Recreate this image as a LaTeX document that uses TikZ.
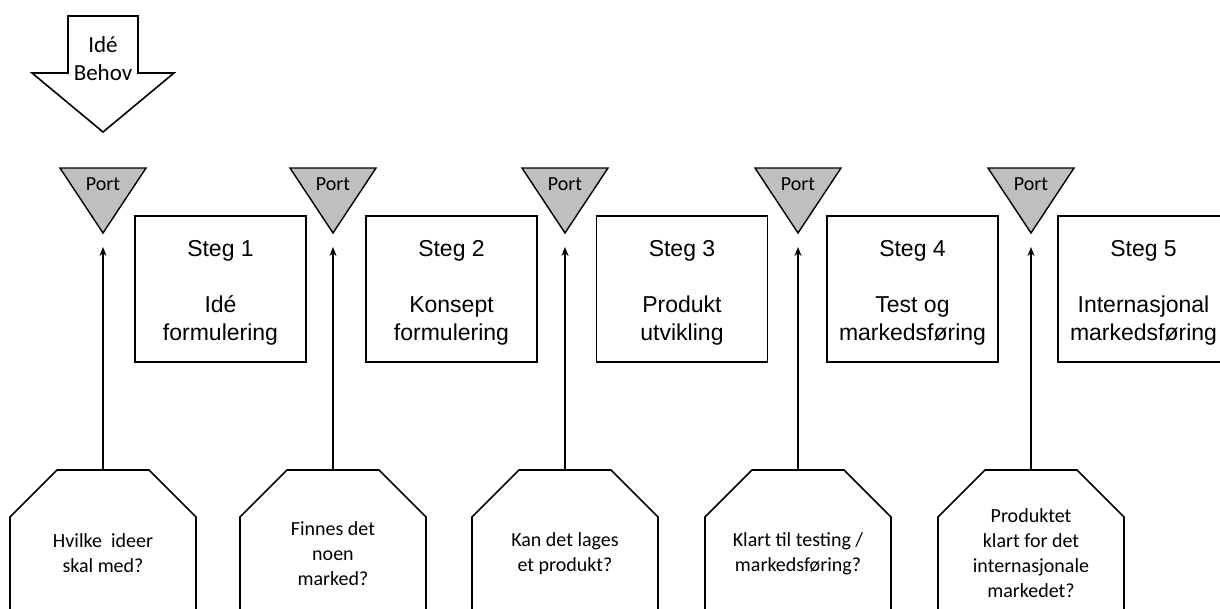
\documentclass[tikz,border=0pt]{standalone}
\usepackage{fontspec}
\setmainfont{Carlito}
\newfontfamily\arialf{Liberation Sans}
\usetikzlibrary{arrows.meta}
\begin{document}
\begin{tikzpicture}[x=1pt,y=-1pt,line join=miter]
\tikzset{
 stegbox/.style={draw,line width=1.6pt,minimum width=171pt,minimum height=146pt,inner sep=0pt},
 stegtext/.style={font=\arialf\fontsize{23}{28}\selectfont,align=center,inner sep=0pt},
 porttri/.style={draw,fill=gray!50,line width=1.4pt},
 porttext/.style={font=\fontsize{20}{24}\selectfont,inner sep=0pt},
 qtext/.style={font=\fontsize{20}{25}\selectfont,align=center,inner sep=0pt},
 octline/.style={draw,line width=1.6pt},
 conn/.style={line width=1.6pt,-{Stealth[length=9pt,width=7pt]}},
 bigarrow/.style={draw,line width=1.6pt},
 arrowtext/.style={font=\fontsize{23}{28}\selectfont,align=center,inner sep=0pt},
}
\useasboundingbox (0,0) rectangle (1220,608);
% big entry arrow
\draw[bigarrow] (68,16) -- (138,16) -- (138,73) -- (174,73) -- (103,132) -- (32,73) -- (68,73) -- cycle;
\node[arrowtext] (idea) at (103,58.5) {Idé\\Behov};
% ports, octagons and connectors
\foreach \i/\px in {1/103,2/333,3/565,4/798,5/1031}{
  \draw[porttri] (\px-43,168) -- (\px+43,168) -- (\px,233) -- cycle;
  \coordinate (p\i) at (\px,233);
  \coordinate (a\i) at (\px,247);
  \node[porttext] (pt\i) at (\px,184) {Port};
  \draw[octline] (\px-93,614) -- (\px-93,517) -- (\px-46,470) -- (\px+46,470) -- (\px+93,517) -- (\px+93,614);
  \coordinate (q\i) at (\px,470);
  \draw[conn] (q\i) -- (a\i);
}
% step boxes
\foreach \i/\bx in {1/220.5,2/451.5,3/682,4/912.5,5/1143.5}{
  \node[stegbox] (s\i) at (\bx,289) {};
}
\node[stegtext] (t1) at (220.5,293) {Steg 1\\[28pt]Idé\\formulering};
\node[stegtext] (t2) at (451.5,293) {Steg 2\\[28pt]Konsept\\formulering};
\node[stegtext] (t3) at (682,293) {Steg 3\\[28pt]Produkt\\utvikling};
\node[stegtext] (t4) at (912.5,293) {Steg 4\\[28pt]Test og\\markedsføring};
\node[stegtext] (t5) at (1143.5,293) {Steg 5\\[28pt]Internasjonal\\markedsføring};
% question texts
\node[qtext] (o1) at (103,553.5) {Hvilke\ \ ideer\\skal med?};
\node[qtext] (o2) at (333,553.5) {Finnes det\\noen\\marked?};
\node[qtext] (o3) at (565,553.5) {Kan det lages\\et produkt?};
\node[qtext] (o4) at (798,553.5) {Klart til testing /\\markedsføring?};
\node[qtext] (o5) at (1031,553.5) {Produktet\\klart for det\\internasjonale\\markedet?};
\end{tikzpicture}
\end{document}
